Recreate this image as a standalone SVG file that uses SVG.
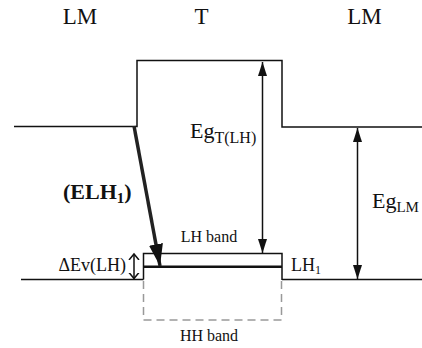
<svg xmlns="http://www.w3.org/2000/svg" width="422" height="348" viewBox="0 0 422 348">
<style>
.t{font-family:'Liberation Serif','Times New Roman',serif;fill:#111}
.ln{stroke:#111;stroke-width:1.5;fill:none}
.dash{stroke:#999;stroke-width:1.5;fill:none;stroke-dasharray:8 5}
.arr{stroke:#111;stroke-width:1.5;fill:none}
</style>
<defs>
<marker id="ah" markerUnits="userSpaceOnUse" markerWidth="15" markerHeight="9" refX="14" refY="4.5" orient="auto-start-reverse">
<path d="M0,0 L14,4.5 L0,9 z" fill="#111"/>
</marker>
<marker id="ao" markerUnits="userSpaceOnUse" markerWidth="8" markerHeight="12" refX="6" refY="6" orient="auto-start-reverse">
<path d="M0,1 L6,6 L0,11" fill="none" stroke="#111" stroke-width="1.5"/>
</marker>
<marker id="ab" markerUnits="userSpaceOnUse" markerWidth="24" markerHeight="14" refX="22" refY="7" orient="auto">
<path d="M0,0 L22,7 L0,14 z" fill="#111"/>
</marker>
</defs>
<g id="labels-top" class="t">
<text x="80" y="24" font-size="23" text-anchor="middle">LM</text>
<text x="201.5" y="24" font-size="23" text-anchor="middle">T</text>
<text x="364.5" y="24" font-size="23" text-anchor="middle">LM</text>
</g>
<g id="conduction-band">
<path class="ln" d="M14,126.5 H137 V60.5 H282 V127 H422"/>
</g>
<g id="valence-band">
<path class="ln" d="M21,279.5 H143.5 M282,279.5 H422"/>
</g>
<g id="lh-band" class="t">
<path class="ln" d="M143.5,279.5 V253.5 H282 V280"/>
<line x1="143.5" y1="266.8" x2="282" y2="266.8" stroke="#111" stroke-width="2.5"/>
<text x="209" y="242" font-size="16" text-anchor="middle">LH band</text>
<text x="291" y="271" font-size="18">LH<tspan font-size="12" dy="3">1</tspan></text>
</g>
<g id="hh-band" class="t">
<path class="dash" d="M143.5,281 V320 H281.5 V281"/>
<text x="209" y="341" font-size="16" text-anchor="middle">HH band</text>
</g>
<g id="connectors">
<line class="arr" x1="262.5" y1="62" x2="262.5" y2="253" marker-start="url(#ah)" marker-end="url(#ah)"/>
<line class="arr" x1="357.5" y1="128" x2="357.5" y2="279" marker-start="url(#ah)" marker-end="url(#ah)"/>
<line class="arr" x1="134" y1="254" x2="134" y2="278.5" marker-start="url(#ao)" marker-end="url(#ao)"/>
<line x1="134" y1="126" x2="160" y2="266" stroke="#222" stroke-width="3.5" marker-end="url(#ab)"/>
</g>
<g id="gap-labels" class="t">
<text x="190" y="138" font-size="22">Eg<tspan font-size="16" dy="5">T(LH)</tspan></text>
<text x="372" y="208" font-size="22">Eg<tspan font-size="15" dy="4">LM</tspan></text>
<text x="126" y="271" font-size="18" text-anchor="end">ΔEv(LH)</text>
<text x="63" y="199" font-size="22" font-weight="bold">(ELH<tspan font-size="15" dy="4">1</tspan><tspan dy="-4">)</tspan></text>
</g>
</svg>
